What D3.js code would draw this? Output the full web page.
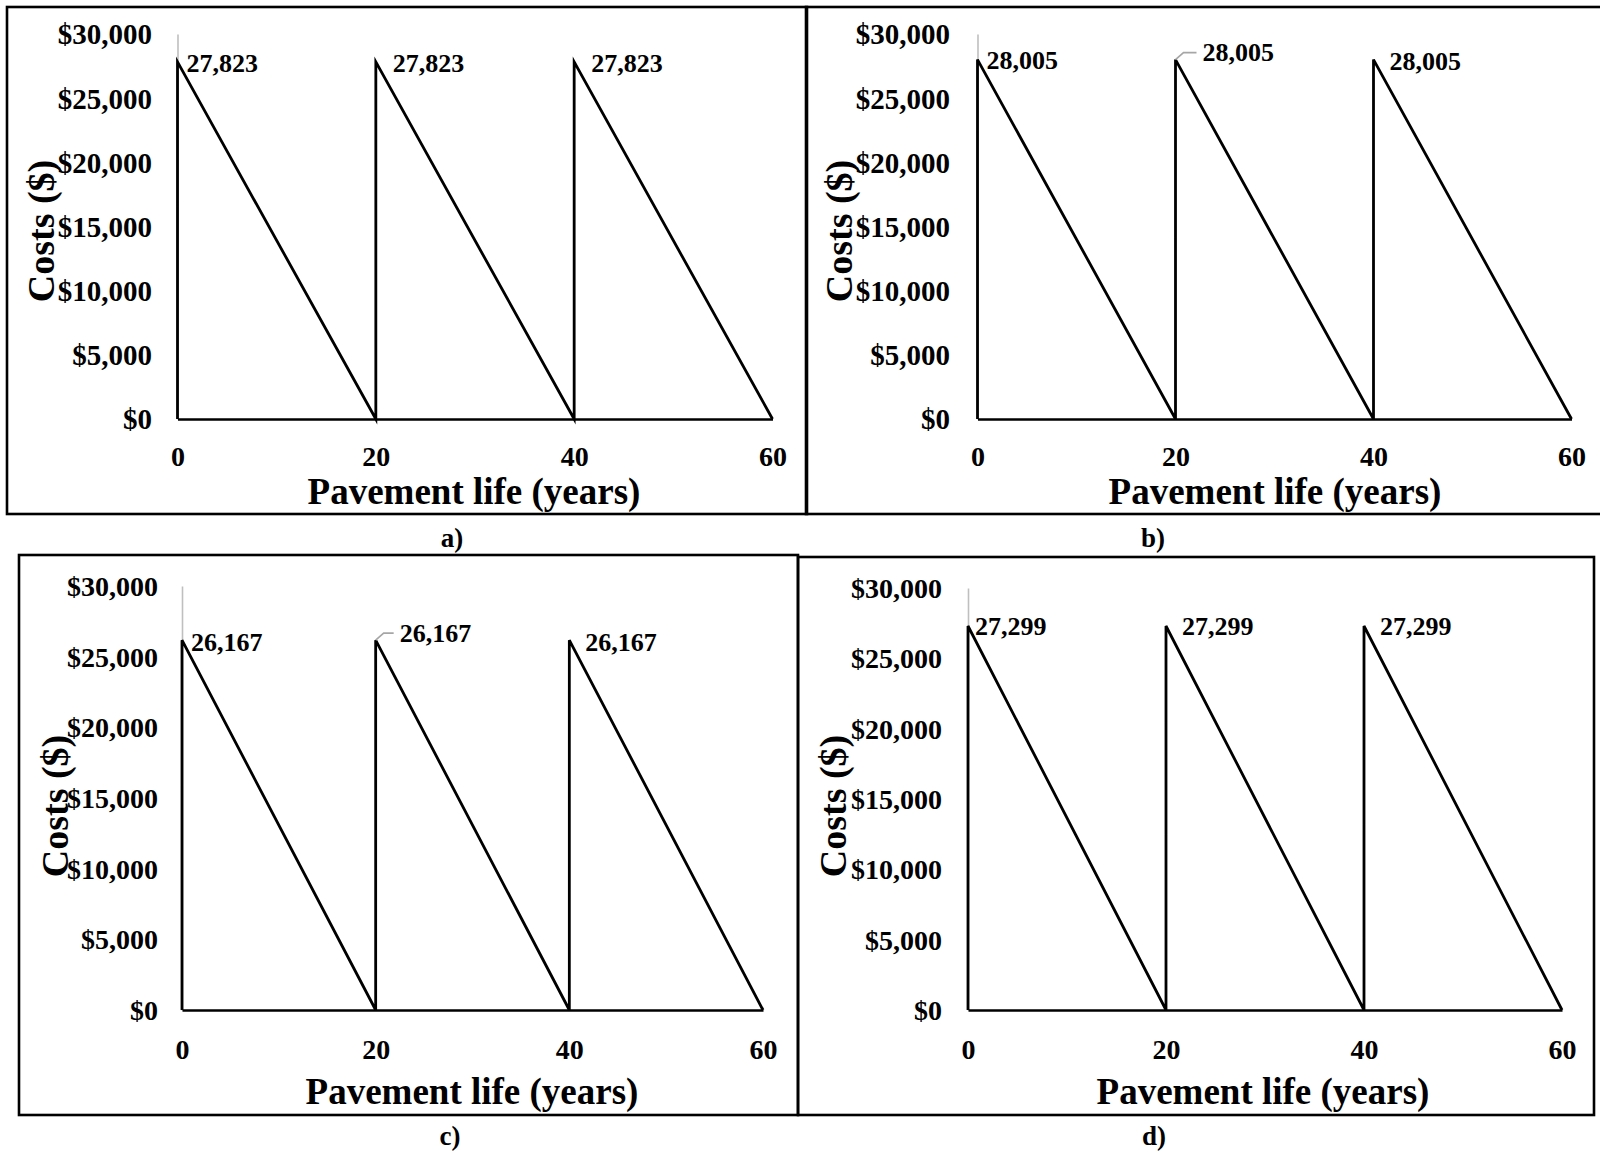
<!DOCTYPE html>
<html>
<head>
<meta charset="utf-8">
<script src="https://cdn.jsdelivr.net/npm/d3@7"></script>
<style>
  html, body { margin: 0; padding: 0; background: #fff; }
  svg { display: block; }
  text { font-family: "Liberation Serif", "Times New Roman", serif; font-weight: bold; fill: #000; }
</style>
</head>
<body>
<svg id="chart" width="1600" height="1154"></svg>
<script>
// ---------------- DATA ----------------
const panelLetters = ["a)", "b)", "c)", "d)"];
const seriesYears = [0, 0, 20, 20, 40, 40, 60];
const costsA = [0, 27823, 0, 27823, 0, 27823, 0];
const costsB = [0, 28005, 0, 28005, 0, 28005, 0];
const costsC = [0, 26167, 0, 26167, 0, 26167, 0];
const costsD = [0, 27299, 0, 27299, 0, 27299, 0];
const peakYears = [0, 20, 40];
const peakLabelsA = ["27,823", "27,823", "27,823"];
const peakLabelsB = ["28,005", "28,005", "28,005"];
const peakLabelsC = ["26,167", "26,167", "26,167"];
const peakLabelsD = ["27,299", "27,299", "27,299"];
const yTickValues = [0, 5000, 10000, 15000, 20000, 25000, 30000];
const yTickLabels = ["$0", "$5,000", "$10,000", "$15,000", "$20,000", "$25,000", "$30,000"];
const xTickValues = [0, 20, 40, 60];
const xTickLabels = ["0", "20", "40", "60"];
const xAxisTitle = "Pavement life (years)";
const yAxisTitle = "Costs ($)";

// ---------------- LAYOUT (positions / styles only) ----------------
const layouts = [
  { costs: costsA, labels: peakLabelsA,
    border: [7, 7, 807, 514], plot: { x0: 177.5, x1: 772.5, y0: 419, y1: 34 },
    yTickRight: 152, yTickSize: 29, xTickY: 456, xTitle: [474, 504], yTitle: [54, 231], letter: [452, 547],
    lab: [[9, 1, false], [17, 1, false], [17, 1, false]] },
  { costs: costsB, labels: peakLabelsB,
    border: [806, 7, 1603, 514], plot: { x0: 977.5, x1: 1571.5, y0: 419, y1: 34 },
    yTickRight: 950, yTickSize: 29, xTickY: 456, xTitle: [1275, 504], yTitle: [852, 231], letter: [1153, 547],
    lab: [[9, 1, false], [27, -7, true], [16, 2, false]] },
  { costs: costsC, labels: peakLabelsC,
    border: [19, 555, 798, 1115], plot: { x0: 182, x1: 763, y0: 1010, y1: 586 },
    yTickRight: 158, yTickSize: 28, xTickY: 1049, xTitle: [472, 1104], yTitle: [68, 806], letter: [450, 1145],
    lab: [[9, 2, false], [24, -7, true], [16, 2, false]] },
  { costs: costsD, labels: peakLabelsD,
    border: [798, 557, 1594, 1115], plot: { x0: 968, x1: 1562, y0: 1010, y1: 588 },
    yTickRight: 942, yTickSize: 28, xTickY: 1049, xTitle: [1263, 1104], yTitle: [846, 806], letter: [1154, 1145],
    lab: [[7, 0, false], [16, 0, false], [16, 0, false]] }
];

const svg = d3.select("#chart");

layouts.forEach((L, i) => {
  const g = svg.append("g");
  const x = d3.scaleLinear().domain([0, 60]).range([L.plot.x0, L.plot.x1]);
  const y = d3.scaleLinear().domain([0, 30000]).range([L.plot.y0, L.plot.y1]);

  // panel border
  const [bx1, by1, bx2, by2] = L.border;
  g.append("rect")
    .attr("x", bx1).attr("y", by1).attr("width", bx2 - bx1).attr("height", by2 - by1)
    .attr("fill", "none").attr("stroke", "#000").attr("stroke-width", 2.6);

  // y axis (light gray line) with labels
  const yAxis = d3.axisLeft(y).tickValues(yTickValues)
    .tickFormat((d, k) => yTickLabels[k]).tickSize(0).tickPadding(L.plot.x0 - L.yTickRight);
  const ya = g.append("g").attr("transform", `translate(${L.plot.x0},0)`).call(yAxis);
  ya.select(".domain").attr("stroke", "#bfbfbf").attr("stroke-width", 1.6);
  ya.selectAll("text")
    .style("font-family", '"Liberation Serif", serif').style("font-weight", "bold")
    .attr("font-size", L.yTickSize).attr("fill", "#000").attr("dy", "0.34em");

  // x axis (black line) with labels
  const xAxis = d3.axisBottom(x).tickValues(xTickValues)
    .tickFormat((d, k) => xTickLabels[k]).tickSize(0).tickPadding(0);
  const xa = g.append("g").attr("transform", `translate(0,${L.plot.y0})`).call(xAxis);
  xa.select(".domain").attr("stroke", "#000").attr("stroke-width", 2.6);
  xa.selectAll("text")
    .style("font-family", '"Liberation Serif", serif').style("font-weight", "bold")
    .attr("font-size", 28).attr("fill", "#000")
    .attr("y", L.xTickY - L.plot.y0).attr("dy", "0.34em");

  // series line
  const pts = seriesYears.map((yr, k) => [yr, L.costs[k]]);
  const line = d3.line().x(d => x(d[0])).y(d => y(d[1]));
  g.append("path").datum(pts)
    .attr("d", line).attr("fill", "none")
    .attr("stroke", "#000").attr("stroke-width", 2.8).attr("stroke-linejoin", "miter");

  // peak data labels
  const peakValue = d3.max(L.costs);
  peakYears.forEach((yr, k) => {
    const px = x(yr), py = y(peakValue);
    const [dx, dy, leader] = L.lab[k];
    if (leader) {
      g.append("path")
        .attr("d", `M${px},${py}L${px + 8},${py + dy}L${px + dx - 6},${py + dy}`)
        .attr("fill", "none").attr("stroke", "#a6a6a6").attr("stroke-width", 1.6);
    }
    g.append("text")
      .attr("x", px + dx).attr("y", py + dy).attr("dy", "0.34em")
      .attr("font-size", 26)
      .text(L.labels[k]);
  });

  // axis titles
  g.append("text")
    .attr("x", L.xTitle[0]).attr("y", L.xTitle[1])
    .attr("text-anchor", "middle").attr("font-size", 37)
    .text(xAxisTitle);
  g.append("text")
    .attr("transform", `translate(${L.yTitle[0]},${L.yTitle[1]}) rotate(-90)`)
    .attr("text-anchor", "middle").attr("font-size", 38)
    .text(yAxisTitle);

  // panel letter
  svg.append("text")
    .attr("x", L.letter[0]).attr("y", L.letter[1])
    .attr("text-anchor", "middle").attr("font-size", 27)
    .text(panelLetters[i]);
});
</script>
</body>
</html>
